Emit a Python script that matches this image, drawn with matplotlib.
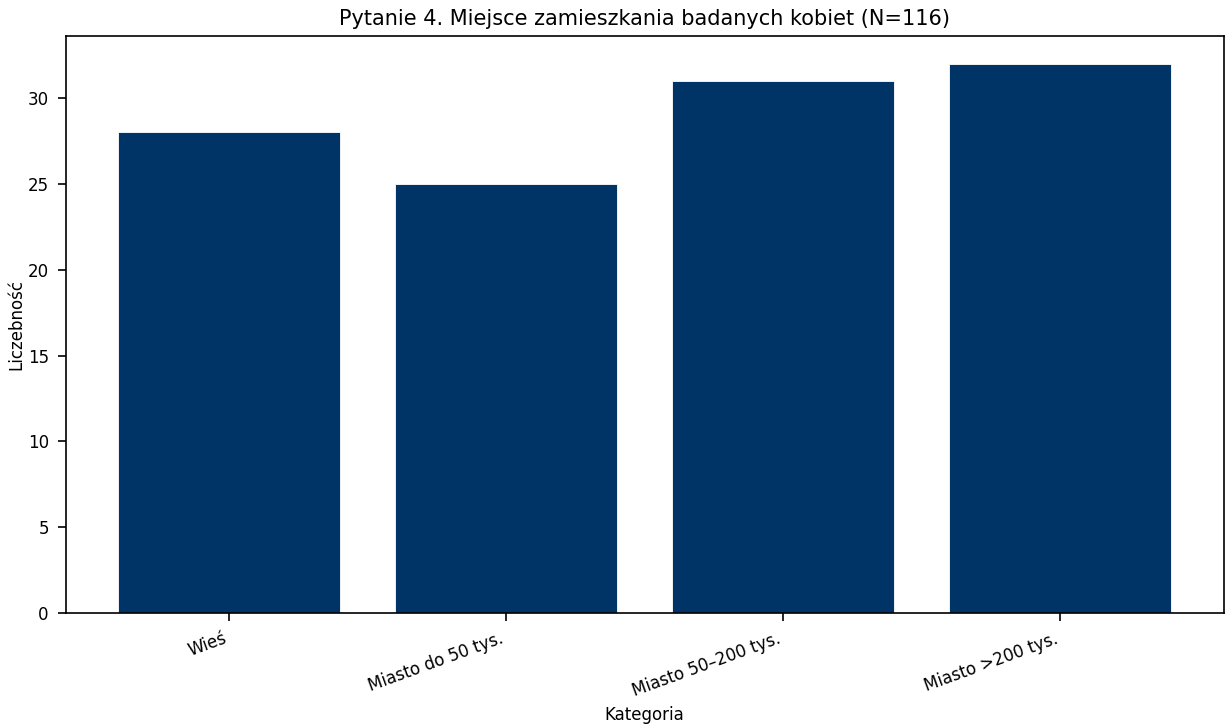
import matplotlib
matplotlib.use("Agg")
import matplotlib.pyplot as plt

# Pytanie 4 - miejsce zamieszkania
kategorie = ["Wieś", "Miasto do 50 tys.", "Miasto 50–200 tys.", "Miasto >200 tys."]
liczebnosc = [28, 25, 31, 32]
tytul = "Pytanie 4. Miejsce zamieszkania badanych kobiet (N=116)"

fig, ax = plt.subplots(figsize=(12.25, 7.25), dpi=100)
ax.bar(kategorie, liczebnosc, color="#003366", edgecolor="#ffffff", linewidth=0.6, width=0.8)
ax.set_title(tytul, fontsize=15, pad=8)
ax.set_xlabel("Kategoria", fontsize=12)
ax.set_ylabel("Liczebność", fontsize=12, labelpad=1.5)
ax.tick_params(labelsize=12, length=6, width=1.2, pad=6)
for s in ax.spines.values():
    s.set_linewidth(1.2)
plt.setp(ax.get_xticklabels(), rotation=20, ha="right")

fig.subplots_adjust(left=0.0535, right=0.999, top=0.950, bottom=0.1545)
fig.savefig("out.png", dpi=100)
